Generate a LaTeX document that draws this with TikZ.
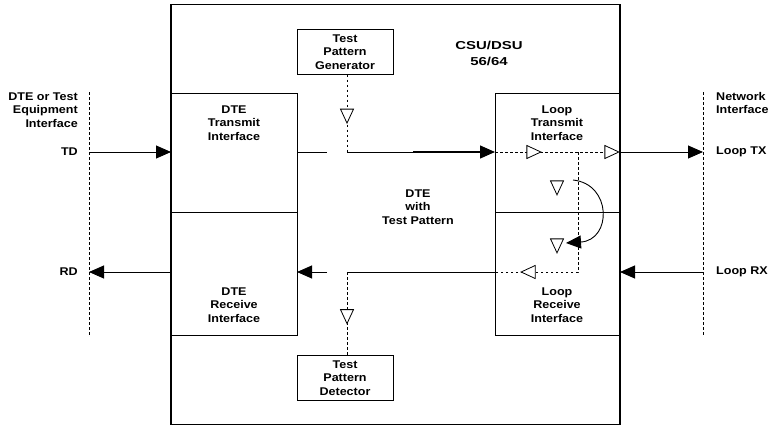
\documentclass[tikz,border=0pt]{standalone}
\usepackage{fontspec}
\setmainfont[FakeStretch=1.12]{Liberation Sans}
\newfontfamily\csufont[FakeStretch=1.3]{Liberation Sans}
\usetikzlibrary{arrows.meta,positioning,shapes.geometric,calc}

\begin{document}
\begin{tikzpicture}[
  x=1pt, y=-1pt,
  font=\fontsize{11.2}{13.5}\selectfont\bfseries,
  unit/.style={draw, line width=1.8pt, minimum width=449pt, minimum height=420pt, outer sep=0pt},
  block/.style={draw, line width=0.9pt, minimum width=126pt, outer sep=0pt},
  testbox/.style={draw, line width=0.9pt, minimum width=96pt, minimum height=45pt, align=center, inner sep=0pt, outer sep=0pt},
  txt/.style={align=center, inner sep=0pt},
  wire/.style={line width=0.9pt},
  flow/.style={-{Triangle[length=15pt,width=13pt]}, line width=0.9pt},
  dots/.style={line width=0.9pt, dash pattern=on 2.5pt off 2.5pt},
  opentri/.style={draw, fill=white, line width=0.8pt, isosceles triangle, isosceles triangle stretches,
    minimum height=14pt, minimum width=13pt, inner sep=0pt}
]
\useasboundingbox (0,0) rectangle (772,426);

\node[unit] (csu) at (395.5,214.5) {};
\node[block, minimum height=119pt] (dtetx) at (234,152.5) {};
\node[block, minimum height=123pt, below=0pt of dtetx] (dterx) {};
\node[block, minimum height=119pt, minimum width=125pt] (looptx) at (557.5,152.5) {};
\node[block, minimum height=123pt, minimum width=125pt, below=0pt of looptx] (looprx) {};
\node[testbox] (gen) at (345,52) {Test\\Pattern\\Generator};
\node[testbox] (det) at (345,378) {Test\\Pattern\\Detector};

\node[txt, font=\csufont\fontsize{11.5}{16.5}\selectfont\bfseries] (csutxt) at (489,53.5) {CSU/DSU\\56/64};
\node[txt] (dtetxt) at (234,123) {DTE\\Transmit\\Interface};
\node[txt] (dterxt) at (234,305) {DTE\\Receive\\Interface};
\node[txt] (looptxt) at (557,123) {Loop\\Transmit\\Interface};
\node[txt] (looprxt) at (557,305) {Loop\\Receive\\Interface};
\node[txt] (mixtxt) at (418,207) {DTE\\with\\Test Pattern};

\coordinate (txrow) at (0,152);
\coordinate (rxrow) at (0,272);
\coordinate (dteL) at (89,92);
\coordinate (dteLb) at (89,336);
\coordinate (netR) at (703,92);
\coordinate (netRb) at (703,336);

\node[txt, anchor=east, align=right] (dteif) at (78,110) {DTE or Test\\Equipment\\Interface};
\node[txt, anchor=east] (tdtxt) at (dteL |- txrow) [xshift=-11pt] {TD};
\node[txt, anchor=east] (rdtxt) at (dteL |- rxrow) [xshift=-11pt] {RD};
\node[txt, anchor=west, align=left] (netif) at (716,103) {Network\\Interface};
\node[txt, anchor=west] (ltxtxt) at (netR |- txrow) [xshift=13pt] {Loop TX};
\node[txt, anchor=west] (lrxtxt) at (netR |- rxrow) [xshift=13pt] {Loop RX};

\draw[dots] (dteL) -- (dteLb);
\draw[dots] (netR) -- (netRb);

\draw[flow] (dteL |- txrow) -- (dtetx.west |- txrow);
\draw[flow] (dterx.west |- rxrow) -- (dteL |- rxrow);
\draw[flow] (looptx.east |- txrow) -- (netR |- txrow);
\draw[flow] (netR |- rxrow) -- (looprx.east |- rxrow);

\coordinate (gtap) at (347,152);
\coordinate (dtap) at (347,272);
\coordinate (txgap) at (327,152);
\coordinate (rxgap) at (327,272);
\coordinate (txmid) at (413,152);

\draw[wire] (dtetx.east |- txrow) -- (txgap);
\draw[dots] (gtap |- gen.south) -- (gtap);
\draw[wire] (gtap) -- (txmid);
\draw[flow, line width=1.3pt] (txmid) -- (looptx.west |- txrow);
\node[opentri, shape border rotate=-90] (gentri) at ($(gtap |- gen.south)!0.5!(gtap)$) {};

\draw[flow] (rxgap) -- (dterx.east |- rxrow);
\draw[wire] (looprx.west |- rxrow) -- (dtap);
\draw[dots] (dtap) -- (dtap |- det.north);
\node[opentri, shape border rotate=-90] (dettri) at ($(dtap)!0.5!(dtap |- det.north)$) {};

\coordinate (lbk) at (578,152);
\coordinate (lbkb) at (578,272);
\draw[dots] (looptx.west |- txrow) -- (looptx.east |- txrow);
\draw[dots] (lbk) -- (lbkb) -- (looprx.west |- rxrow);
\node[opentri] (txtri1) at (531,152) {};
\node[opentri] (txtri2) at (609,152) {};
\node[opentri, shape border rotate=180] (rxtri) at (531,272) {};
\node[opentri, shape border rotate=-90] (looptri1) at (557,185) {};
\node[opentri, shape border rotate=-90] (looptri2) at (557,243) {};

\coordinate (bendA) at (573,180);
\coordinate (bendB) at (566,243);
\draw[flow] (bendA) .. controls (612,184) and (612,240) .. (bendB);
\end{tikzpicture}
\end{document}
